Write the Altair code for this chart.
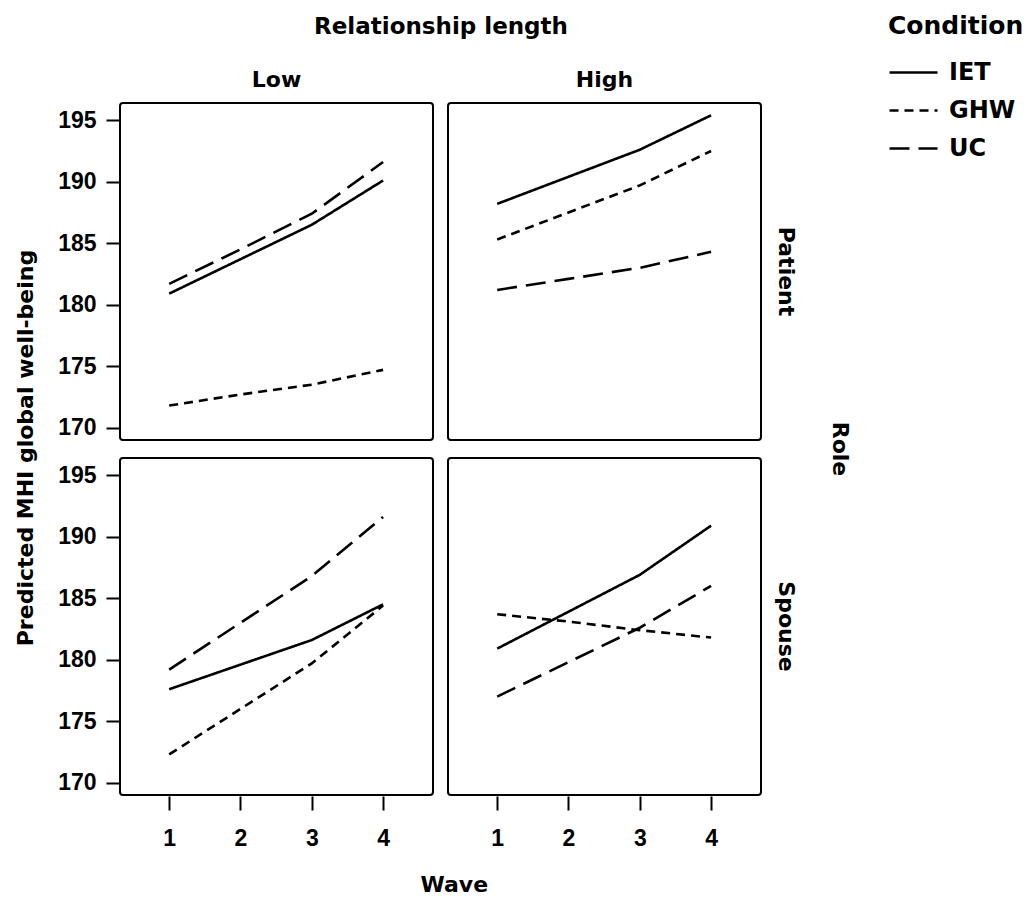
import altair as alt
import pandas as pd

waves = [1, 2, 3, 4]
conditions = ["IET", "GHW", "UC"]
lengths = ["Low", "High"]
roles = ["Patient", "Spouse"]

low_patient_IET = [180.9, 183.7, 186.5, 190.1]
low_patient_GHW = [171.8, 172.7, 173.5, 174.7]
low_patient_UC = [181.7, 184.5, 187.4, 191.6]
high_patient_IET = [188.2, 190.4, 192.6, 195.4]
high_patient_GHW = [185.3, 187.5, 189.7, 192.5]
high_patient_UC = [181.2, 182.1, 183.0, 184.3]
low_spouse_IET = [177.6, 179.6, 181.6, 184.5]
low_spouse_GHW = [172.3, 176.0, 179.7, 184.4]
low_spouse_UC = [179.2, 183.0, 186.8, 191.6]
high_spouse_IET = [180.9, 183.9, 186.9, 190.9]
high_spouse_GHW = [183.7, 183.1, 182.4, 181.8]
high_spouse_UC = [177.0, 179.8, 182.6, 186.0]

y_ticks = [170, 175, 180, 185, 190, 195]

series = {
    ("Low", "Patient", "IET"): low_patient_IET,
    ("Low", "Patient", "GHW"): low_patient_GHW,
    ("Low", "Patient", "UC"): low_patient_UC,
    ("High", "Patient", "IET"): high_patient_IET,
    ("High", "Patient", "GHW"): high_patient_GHW,
    ("High", "Patient", "UC"): high_patient_UC,
    ("Low", "Spouse", "IET"): low_spouse_IET,
    ("Low", "Spouse", "GHW"): low_spouse_GHW,
    ("Low", "Spouse", "UC"): low_spouse_UC,
    ("High", "Spouse", "IET"): high_spouse_IET,
    ("High", "Spouse", "GHW"): high_spouse_GHW,
    ("High", "Spouse", "UC"): high_spouse_UC,
}

rows = []
for (length, role, cond), vals in series.items():
    for w, v in zip(waves, vals):
        rows.append({"Length": length, "Role": role, "Condition": cond, "Wave": w, "Value": v})
df = pd.DataFrame(rows)

TITLE_FONT = "DejaVu Sans"
TICK_FONT = "Liberation Sans, Arial"

base = alt.Chart(df).mark_line(strokeWidth=2.6, color="black").encode(
    x=alt.X(
        "Wave:Q",
        scale=alt.Scale(domain=[0.31, 4.7], nice=False, zero=False),
        axis=alt.Axis(values=waves, format="d", title=None, grid=False, domain=False,
                      tickSize=14, tickWidth=2, tickColor="black", labelPadding=17,
                      labelFont=TICK_FONT, labelFontSize=23, labelFontWeight="bold",
                      labelColor="black"),
    ),
    y=alt.Y(
        "Value:Q",
        scale=alt.Scale(domain=[169.0, 196.4], nice=False, zero=False),
        axis=alt.Axis(values=y_ticks, title=None, grid=False,
                      domain=False, tickSize=13, tickWidth=2, tickColor="black",
                      labelPadding=10, labelFont=TICK_FONT, labelFontSize=23,
                      labelFontWeight="bold", labelColor="black"),
    ),
    strokeDash=alt.StrokeDash(
        "Condition:N",
        scale=alt.Scale(domain=conditions, range=[[1, 0], [9, 6], [20, 9]]),
        legend=alt.Legend(title="Condition", orient="none", legendX=768, legendY=-89,
                          symbolType="stroke", symbolSize=2304, symbolStrokeWidth=2.6,
                          symbolStrokeColor="black", titleFont=TITLE_FONT,
                          titleFontSize=25, titleFontWeight="bold", titleColor="black",
                          labelFont=TITLE_FONT, labelFontSize=24, labelFontWeight="bold",
                          labelColor="black", labelOffset=10, rowPadding=-5,
                          titlePadding=8),
    ),
).properties(width=313, height=337)

facet = base.facet(
    column=alt.Column(
        "Length:N", sort=lengths,
        header=alt.Header(title="Relationship length", titleFont=TITLE_FONT, titleFontSize=23,
                          titleFontWeight="bold", titleColor="black", titlePadding=20,
                          labelFont=TITLE_FONT, labelFontSize=22, labelFontWeight="bold",
                          labelColor="black", labelPadding=10),
    ),
    row=alt.Row(
        "Role:N", sort=roles,
        header=alt.Header(title="Role", titleOrient="right", labelOrient="right",
                          titleAngle=90, labelAngle=90, titleFont=TITLE_FONT,
                          titleFontSize=22, titleFontWeight="bold", titleColor="black",
                          titlePadding=21, labelFont=TITLE_FONT, labelFontSize=22,
                          labelFontWeight="bold", labelColor="black", labelPadding=12),
    ),
    spacing={"row": 16, "column": 13},
).properties(
    title=alt.TitleParams("Wave", orient="bottom", anchor="middle", font=TITLE_FONT,
                          fontSize=22, fontWeight="bold", color="black", offset=25)
)

chart = alt.vconcat(facet).properties(
    title=alt.TitleParams("Predicted MHI global well-being", orient="left", anchor="middle",
                          font=TITLE_FONT, fontSize=22, fontWeight="bold", color="black",
                          offset=20, dx=7),
    padding={"left": 6, "top": 6, "right": 0, "bottom": 0},
).configure_view(stroke="black", strokeWidth=2, cornerRadius=3)

chart.save("out.html", embed_options={"renderer": "svg", "actions": False})
